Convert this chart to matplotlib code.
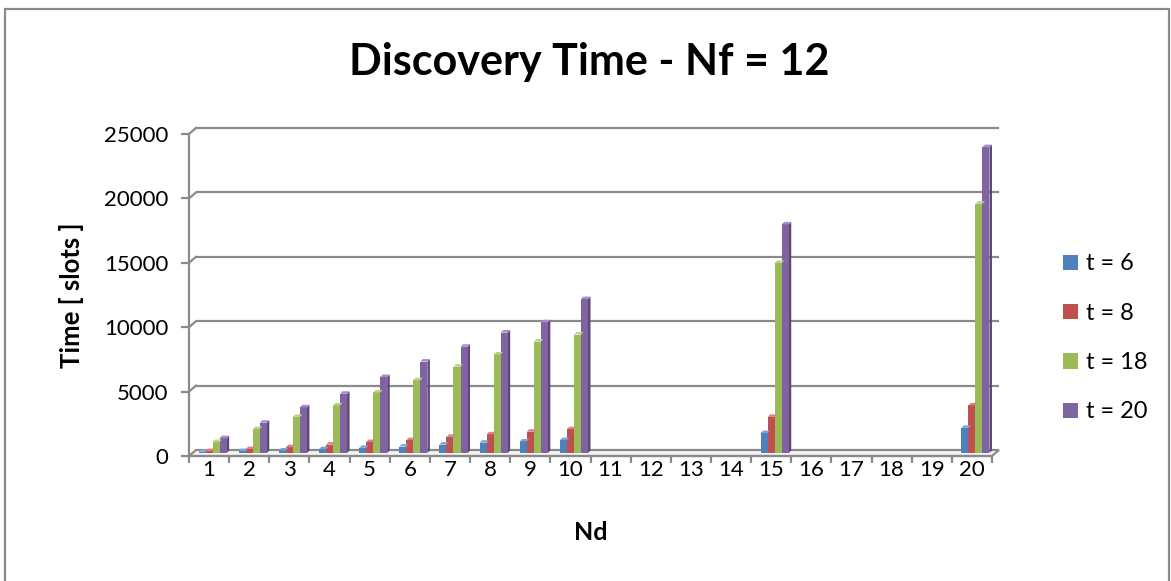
import numpy as np
import matplotlib
matplotlib.use("Agg")
import matplotlib.pyplot as plt
from matplotlib.patches import Polygon, Rectangle, Patch
from matplotlib.transforms import ScaledTranslation

plt.rcParams['font.family'] = ['Lato', 'DejaVu Sans']

# ---- data -------------------------------------------------------------
nd = list(range(1, 21))
series_labels = ["t = 6", "t = 8", "t = 18", "t = 20"]
nan = np.nan
t6 = [100, 150, 200, 300, 400, 500, 650, 800, 900, 1000,
      nan, nan, nan, nan, 1550, nan, nan, nan, nan, 1950]
t8 = [150, 300, 450, 650, 850, 1000, 1250, 1450, 1650, 1850,
      nan, nan, nan, nan, 2800, nan, nan, nan, nan, 3700]
t18 = [850, 1850, 2800, 3700, 4700, 5650, 6700, 7650, 8650, 9200,
       nan, nan, nan, nan, 14750, nan, nan, nan, nan, 19350]
t20 = [1150, 2350, 3550, 4600, 5900, 7100, 8250, 9350, 10150, 11950,
       nan, nan, nan, nan, 17750, nan, nan, nan, nan, 23750]
series = [t6, t8, t18, t20]
y_ticks = [0, 5000, 10000, 15000, 20000, 25000]

face_colors = ["#4F81BD", "#C0504D", "#9BBB59", "#8064A2"]
side_colors = ["#385D8A", "#8C3836", "#71893F", "#5C4776"]
top_colors = ["#7FA3D3", "#D88380", "#B9D387", "#A48EC2"]
axis_gray = "#8A8A8A"

# ---- figure / axes ----------------------------------------------------
W, H, DPI = 1171, 581, 100
fig = plt.figure(figsize=(W / DPI, H / DPI), dpi=DPI)
fig.patch.set_facecolor("white")

# outer chart border
fig.patches.append(Rectangle((5 / W, -0.02), (1169 - 5) / W, (H - 9) / H + 0.02,
                             transform=fig.transFigure, fill=False,
                             edgecolor=axis_gray, linewidth=1.6))

ax_left, ax_right, ax_top, ax_base = 189, 992, 134, 456
ax = fig.add_axes([ax_left / W, (H - ax_base) / H,
                   (ax_right - ax_left) / W, (ax_base - ax_top) / H])
ax.set_xlim(0.5, 20.5)
ax.set_ylim(0, 25000)
ax.patch.set_alpha(0)

px_per_x = (ax_right - ax_left) / 20.0
px_per_y = (ax_base - ax_top) / 25000.0


def px_offset(dx, dy):
    return ax.transData + ScaledTranslation(dx / DPI, dy / DPI, fig.dpi_scale_trans)


wall = px_offset(7, 6)
lw = 2.2 * 72 / DPI

# back-wall gridlines with slanted connectors to the front axis
for v in y_ticks[1:]:
    ax.plot([0.5, 20.5], [v, v], transform=wall, color=axis_gray, lw=lw,
            clip_on=False, solid_capstyle="butt", zorder=1)
    ax.plot([0.5, 0.5 + 7 / px_per_x], [v, v + 6 / px_per_y], color=axis_gray,
            lw=lw, clip_on=False, zorder=1)

# floor
dxw, dyw = 7 / px_per_x, 6 / px_per_y
floor = Polygon([(0.5, 0), (20.5, 0), (20.5 + dxw, dyw), (0.5 + dxw, dyw)],
                closed=True, facecolor="#F4F4F4", edgecolor=axis_gray,
                linewidth=lw, clip_on=False, zorder=1)
ax.add_patch(floor)

# ---- 3-D style columns ------------------------------------------------
bar_w = 0.175
bar_off = px_offset(3.5, 3)
dxb, dyb = 2.5 / px_per_x, 2.5 / px_per_y
x = np.array(nd, dtype=float)
for i, vals in enumerate(series):
    vals = np.array(vals, dtype=float)
    pos = x - 2 * bar_w + (i + 0.5) * bar_w
    ok = ~np.isnan(vals)
    ax.bar(pos[ok], vals[ok], width=bar_w, color=face_colors[i],
           transform=bar_off, zorder=3, linewidth=0, clip_on=False)
    for xp, v in zip(pos[ok], vals[ok]):
        l, r = xp - bar_w / 2, xp + bar_w / 2
        side = Polygon([(r, 0), (r + dxb, dyb), (r + dxb, v + dyb), (r, v)],
                       closed=True, facecolor=side_colors[i], linewidth=0,
                       transform=bar_off, zorder=2.9 + 0.01 * i, clip_on=False)
        top = Polygon([(l, v), (r, v), (r + dxb, v + dyb), (l + dxb, v + dyb)],
                      closed=True, facecolor=top_colors[i], linewidth=0,
                      transform=bar_off, zorder=3.1, clip_on=False)
        ax.add_patch(side)
        ax.add_patch(top)

# ---- axes styling -----------------------------------------------------
for s in ["top", "right"]:
    ax.spines[s].set_visible(False)
for s in ["left", "bottom"]:
    ax.spines[s].set_color(axis_gray)
    ax.spines[s].set_linewidth(lw)
    ax.spines[s].set_zorder(4)

ax.set_yticks(y_ticks)
ax.set_yticklabels([str(v) for v in y_ticks])
ax.tick_params(axis="y", length=8 * 72 / DPI, width=lw, color=axis_gray,
               labelsize=16, pad=9, labelcolor="black")

ax.set_xticks(nd)
ax.set_xticklabels([str(n) for n in nd])
ax.set_xticks(np.arange(0.5, 21, 1.0), minor=True)
ax.tick_params(axis="x", which="major", length=0, labelsize=16, pad=3)
ax.tick_params(axis="x", which="minor", length=7 * 72 / DPI, width=lw,
               color=axis_gray)

# ---- texts ------------------------------------------------------------
fig.text(589 / W, 1 - 62 / H, "Discovery Time - Nf = 12", ha="center",
         va="center", fontsize=31, fontweight="bold")
fig.text(72 / W, 1 - 295 / H, "Time [ slots ]", ha="center", va="center",
         rotation=90, fontsize=18.5, fontweight="bold")
fig.text(591 / W, 1 - 532 / H, "Nd", ha="center", va="center",
         fontsize=18, fontweight="bold")

handles = [Patch(facecolor=c, edgecolor="none") for c in face_colors]
fig.legend(handles, series_labels, loc="center left",
           bbox_to_anchor=(1042 / W, 1 - 338 / H), frameon=False,
           fontsize=17, handlelength=0.62, handleheight=0.62,
           handletextpad=0.35, labelspacing=1.2)

fig.savefig("out.png", dpi=DPI)
